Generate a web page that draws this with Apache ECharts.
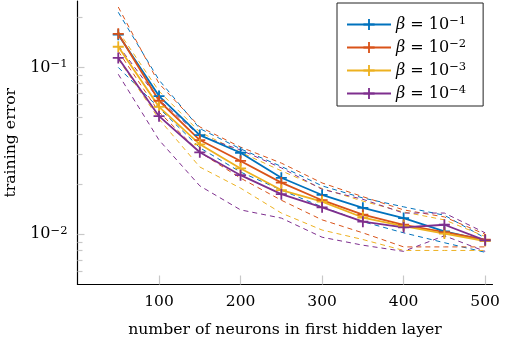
<!DOCTYPE html>
<html>
<head>
<meta charset="utf-8">
<title>training error</title>
<script src="https://cdn.jsdelivr.net/npm/echarts@6/dist/echarts.min.js"></script>
<style>
  html, body { margin: 0; padding: 0; background: #fff; }
  #chart { width: 507px; height: 345px; }
</style>
</head>
<body>
<div id="chart"></div>
<script>
  // x: number of neurons in first hidden layer
  var neurons = [50, 100, 150, 200, 250, 300, 350, 400, 450, 500]

  var betaNames = ['β = 10^-1', 'β = 10^-2', 'β = 10^-3', 'β = 10^-4']
  var colors = ['#0072bd', '#d95319', '#edb120', '#7e2f8e']

  // training error (solid lines with + marks)
  var errB1 = [0.157, 0.0673, 0.0393, 0.0308, 0.0218, 0.0172, 0.0144, 0.0125, 0.0104, 0.0092]
  var errB2 = [0.159, 0.0631, 0.0367, 0.0275, 0.0204, 0.0160, 0.0131, 0.0114, 0.0103, 0.0093]
  var errB3 = [0.133, 0.0580, 0.0346, 0.0248, 0.0184, 0.0157, 0.0126, 0.0112, 0.0101, 0.0091]
  var errB4 = [0.114, 0.0510, 0.0310, 0.0226, 0.0174, 0.0145, 0.0119, 0.0110, 0.0114, 0.0092]

  // upper band (dashed)
  var upB1 = [0.214, 0.084, 0.043, 0.0325, 0.0255, 0.0195, 0.0165, 0.0146, 0.0130, 0.0095]
  var upB2 = [0.230, 0.080, 0.044, 0.0333, 0.0267, 0.0203, 0.0168, 0.0140, 0.0127, 0.0100]
  var upB3 = [0.165, 0.072, 0.041, 0.031, 0.024, 0.0188, 0.0158, 0.0136, 0.0122, 0.0097]
  var upB4 = [0.135, 0.064, 0.039, 0.032, 0.025, 0.0186, 0.0162, 0.0134, 0.0134, 0.0102]

  // lower band (dashed)
  var loB1 = [0.100, 0.057, 0.033, 0.0236, 0.0184, 0.0146, 0.0119, 0.0102, 0.0089, 0.0078]
  var loB2 = [0.125, 0.054, 0.031, 0.0217, 0.0160, 0.0122, 0.0102, 0.0084, 0.0084, 0.0084]
  var loB3 = [0.112, 0.049, 0.0253, 0.0189, 0.0134, 0.0106, 0.0093, 0.0080, 0.0080, 0.0080]
  var loB4 = [0.091, 0.0367, 0.0195, 0.0140, 0.0125, 0.0096, 0.0086, 0.0079, 0.0098, 0.0079]

  var xTicks = [100, 200, 300, 400, 500]
  var yMajorTicks = [0.01, 0.1]
  var yMinorTicks = [0.006, 0.007, 0.008, 0.009, 0.02, 0.03, 0.04, 0.05, 0.06, 0.07, 0.08, 0.09, 0.2]

  var errs = [errB1, errB2, errB3, errB4]
  var ups = [upB1, upB2, upB3, upB4]
  var los = [loB1, loB2, loB3, loB4]

  var serif = 'DejaVu Serif'
  // 10 with a raised exponent
  var supRich = {
    i: { fontFamily: serif, fontStyle: 'italic', fontSize: 16, lineHeight: 18, color: '#000' },
    b: { fontFamily: serif, fontSize: 16, lineHeight: 18, color: '#000' },
    s: { fontFamily: serif, fontSize: 11.5, lineHeight: 11, padding: [0, 0, 7, 0], color: '#000' }
  }
  // + mark as a filled path
  var plus = 'path://M4.6,0h1.8v11h-1.8z M0,4.6h11v1.8h-11z'

  function pairs (arr) {
    return neurons.map(function (n, i) { return [n, arr[i]] })
  }

  var series = []
  for (var k = 0; k < 4; k++) {
    ;[ups[k], los[k]].forEach(function (band) {
      series.push({
        type: 'line',
        data: pairs(band),
        symbol: 'none',
        silent: true,
        lineStyle: { color: colors[k], width: 1, type: [5, 4] }
      })
    })
  }
  for (var j = 0; j < 4; j++) {
    series.push({
      name: betaNames[j],
      type: 'line',
      data: pairs(errs[j]),
      symbol: plus,
      symbolSize: 11,
      itemStyle: { color: colors[j] },
      lineStyle: { color: colors[j], width: 1.8 }
    })
  }

  var chart = echarts.init(document.getElementById('chart'))
  chart.setOption({
    animation: false,
    grid: { left: 77.5, right: 14.5, top: 1, bottom: 60.5, outerBoundsMode: 'none' },
    legend: {
      data: betaNames,
      orient: 'vertical',
      left: 337,
      top: 3,
      padding: [12, 17, 3, 9],
      itemWidth: 44,
      itemHeight: 14,
      itemGap: 4,
      borderColor: '#222',
      borderWidth: 1,
      borderRadius: 0,
      formatter: function (name) {
        var p = name.split('^')
        return '{i|β}{b| = 10}{s|' + p[1].replace('-', '−') + '}'
      },
      textStyle: { rich: supRich }
    },
    xAxis: {
      type: 'value',
      min: 0,
      max: 509,
      name: 'number of neurons in first hidden layer',
      nameLocation: 'middle',
      nameGap: 37,
      nameTextStyle: { fontFamily: serif, fontSize: 15.7, color: '#000' },
      axisLine: { lineStyle: { color: '#000', width: 1.2 } },
      axisTick: { inside: true, length: 9, customValues: xTicks, lineStyle: { color: '#c8c8c8', width: 1.2 } },
      axisLabel: { customValues: xTicks, margin: 9, fontFamily: serif, fontSize: 15.5, color: '#000' },
      splitLine: { show: false }
    },
    yAxis: [{
      type: 'log',
      min: 0.005,
      max: 0.25,
      name: 'training error',
      nameLocation: 'middle',
      nameGap: 49,
      nameTextStyle: { fontFamily: serif, fontSize: 15.7, color: '#000' },
      axisLine: { show: true, lineStyle: { color: '#000', width: 1.2 } },
      axisTick: { inside: true, length: 7, customValues: yMajorTicks, lineStyle: { color: '#c8c8c8', width: 1.2 } },
      axisLabel: {
        customValues: yMajorTicks,
        margin: 10,
        formatter: function (v) {
          return '{b|10}{s|−' + Math.round(-Math.log10(v)) + '}'
        },
        rich: supRich
      },
      splitLine: { show: false }
    }, {
      // minor ticks only
      type: 'log',
      min: 0.005,
      max: 0.25,
      position: 'left',
      axisLine: { show: false },
      axisTick: { inside: true, length: 5, customValues: yMinorTicks, lineStyle: { color: '#c8c8c8', width: 1.2 } },
      axisLabel: { show: false },
      splitLine: { show: false }
    }],
    series: series
  })
</script>
</body>
</html>
